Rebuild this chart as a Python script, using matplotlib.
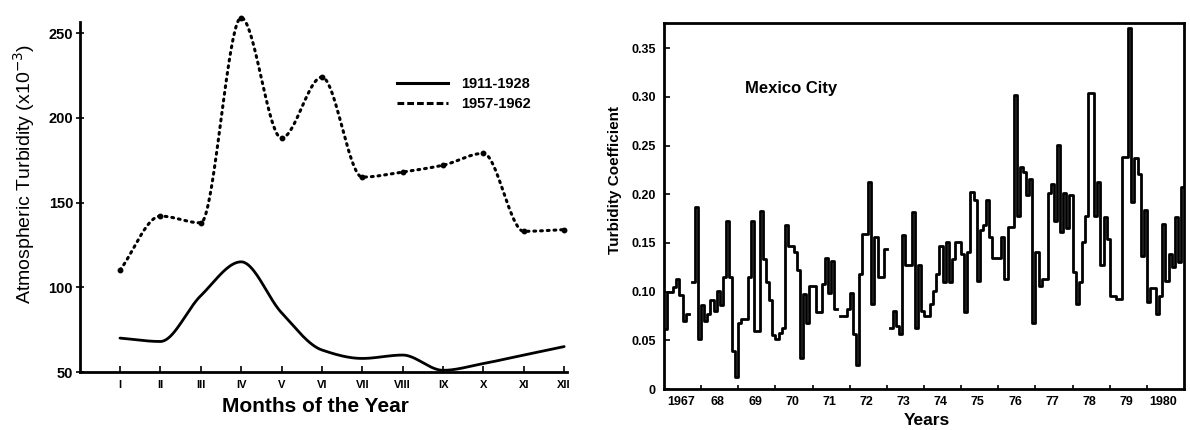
import numpy as np
import matplotlib
matplotlib.use("Agg")
import matplotlib.pyplot as plt
from matplotlib.lines import Line2D
from matplotlib.ticker import FixedLocator, NullFormatter

plt.rcParams['font.family'] = ['Liberation Sans', 'DejaVu Sans']

# ---------------- data: left panel ----------------
months = ['I', 'II', 'III', 'IV', 'V', 'VI', 'VII', 'VIII', 'IX', 'X', 'XI', 'XII']
turb_1911_1928 = [70, 68, 95, 115, 85, 63, 58, 60, 51, 55, 60, 65]
turb_1957_1962 = [110, 142, 138, 259, 188, 224, 165, 168, 172, 179, 133, 134]
left_yticks = [50, 100, 150, 200, 250]

# ---------------- data: right panel (monthly, 1967-1980) ----------------
nan = float('nan')
turbidity_monthly = [
    # 1967
    .062, .100, .100, .105, .113, .097, .070, .077, nan, .110, .187, .051,
    # 1968
    .086, .070, .077, .091, .080, .101, .086, .115, .173, .115, .039, .012,
    # 1969
    .068, .072, .072, .115, .173, .060, .060, .183, .134, .110, .091, .055,
    # 1970
    .051, .058, .063, .168, .147, .147, .141, .122, .032, .098, .068, .106,
    # 1971
    .106, .079, .079, .108, .135, .099, .132, .082, nan, .075, .075, .082,
    # 1972
    .099, .056, .025, .118, .159, .159, .213, .087, .156, .115, .115, .144,
    # 1973
    nan, .063, .080, .065, .056, .158, .127, .127, .182, .063, .127, .080,
    # 1974
    .075, .075, .087, .101, .118, .147, .110, .151, .110, .134, .151, .151,
    # 1975
    .139, .079, .141, .202, .194, .111, .163, .168, .194, .156, .135, .135,
    # 1976
    .135, .156, .113, .166, .166, .302, .178, .228, .223, .199, .216, .068,
    # 1977
    .141, .106, .113, .113, .201, .211, .173, .251, .161, .201, .165, .199,
    # 1978
    .120, .087, .110, .151, .178, .304, .304, .178, .213, .127, .177, .154,
    # 1979
    .096, .096, .092, .092, .238, .238, .371, .192, .237, .221, .137, .184,
    # 1980
    .089, .104, .104, .077, .096, .170, .111, .139, .125, .177, .130, .208,
]
start_year = 1967
year_labels = ['1967', '68', '69', '70', '71', '72', '73', '74', '75', '76',
               '77', '78', '79', '1980']
right_yticks = [0, 0.05, 0.10, 0.15, 0.20, 0.25, 0.30, 0.35]
right_ytick_labels = ['0', '0.05', '0.10', '0.15', '0.20', '0.25', '0.30', '0.35']


def pchip(xv, yv, n=40):
    """Monotone piecewise cubic Hermite interpolation (Fritsch-Carlson)."""
    x = np.asarray(xv, float)
    y = np.asarray(yv, float)
    h = np.diff(x)
    delta = np.diff(y) / h
    d = np.zeros_like(y)
    for k in range(1, len(y) - 1):
        if delta[k - 1] * delta[k] > 0:
            w1 = 2 * h[k] + h[k - 1]
            w2 = h[k] + 2 * h[k - 1]
            d[k] = (w1 + w2) / (w1 / delta[k - 1] + w2 / delta[k])
    d[0] = delta[0]
    d[-1] = delta[-1]
    xs, ys = [], []
    for i in range(len(x) - 1):
        t = np.linspace(0, 1, n, endpoint=(i == len(x) - 2))
        h00 = 2 * t ** 3 - 3 * t ** 2 + 1
        h10 = t ** 3 - 2 * t ** 2 + t
        h01 = -2 * t ** 3 + 3 * t ** 2
        h11 = t ** 3 - t ** 2
        yy = h00 * y[i] + h10 * h[i] * d[i] + h01 * y[i + 1] + h11 * h[i] * d[i + 1]
        xs.append(x[i] + h[i] * t)
        ys.append(yy)
    return np.concatenate(xs), np.concatenate(ys)


fig = plt.figure(figsize=(11.9, 4.3), dpi=100)

# ================= LEFT PANEL =================
axL = fig.add_axes([80 / 1190, 1 - 372 / 430, 487 / 1190, 350 / 430])
mx = np.arange(1, len(months) + 1)

xs, ys = pchip(mx, turb_1911_1928)
axL.plot(xs, ys, color='black', lw=2.0, solid_capstyle='round', clip_on=False)

xs, ys = pchip(mx, turb_1957_1962)
axL.plot(xs, ys, color='black', lw=2.2, linestyle=(0, (0.6, 1.6)),
         dash_capstyle='round', clip_on=False)
axL.plot(mx, turb_1957_1962, linestyle='none', marker='o', ms=3.2,
         color='black', clip_on=False)

axL.set_xlim(0.01, 12.07)
axL.set_ylim(50, 256.5)
axL.spines['top'].set_visible(False)
axL.spines['right'].set_visible(False)
axL.spines['left'].set_linewidth(2.0)
axL.spines['bottom'].set_linewidth(2.0)
axL.set_xticks(mx)
axL.set_xticklabels(months, fontsize=8, fontweight='bold')
axL.set_yticks(left_yticks)
axL.set_yticklabels([str(v) for v in left_yticks], fontsize=10.5, fontweight='bold')
axL.tick_params(axis='x', direction='in', length=4, width=1.2, pad=6)
axL.tick_params(axis='y', direction='inout', length=6, width=1.2, pad=2)

axL.set_ylabel('Atmospheric Turbidity (x10$^{-3}$)', fontsize=14)
axL.yaxis.set_label_coords(-0.088, 0.566)
axL.set_xlabel('Months of the Year', fontsize=15, fontweight='bold')
axL.xaxis.set_label_coords(0.483, -0.07)

handles = [Line2D([], [], color='black', lw=2.2),
           Line2D([], [], color='black', lw=2.2, linestyle=(0, (2.2, 1.0)))]
leg = axL.legend(handles, ['1911-1928', '1957-1962'], loc='upper left',
                 bbox_to_anchor=(0.624, 0.879), frameon=False, handlelength=3.5,
                 handletextpad=0.9, labelspacing=0.4,
                 prop={'size': 10.5, 'weight': 'bold'})

# ================= RIGHT PANEL =================
axR = fig.add_axes([664 / 1190, 1 - 389 / 430, 520 / 1190, 366 / 430])
vals = np.asarray(turbidity_monthly, float)
edges = start_year + np.arange(len(vals) + 1) / 12.0
axR.step(edges, np.append(vals, vals[-1]), where='post', color='black', lw=2.0)

n_years = len(year_labels)
axR.set_xlim(start_year, start_year + n_years)
axR.set_ylim(0, 0.376)
for s in axR.spines.values():
    s.set_linewidth(2.0)
axR.xaxis.set_major_locator(FixedLocator(np.arange(start_year + 1, start_year + n_years)))
axR.xaxis.set_major_formatter(NullFormatter())
axR.xaxis.set_minor_locator(FixedLocator(np.arange(n_years) + start_year + 0.45))
axR.set_xticklabels(year_labels, minor=True, fontsize=9, fontweight='bold')
axR.tick_params(axis='x', which='major', direction='in', length=3, width=1.2)
axR.tick_params(axis='x', which='minor', length=0, pad=5)
axR.set_yticks(right_yticks)
axR.set_yticklabels(right_ytick_labels, fontsize=9, fontweight='bold')
axR.tick_params(axis='y', direction='in', length=4, width=1.2, pad=6)

axR.set_ylabel('Turbidity Coefficient', fontsize=11, fontweight='bold')
axR.yaxis.set_label_coords(-0.081, 0.571)
axR.set_xlabel('Years', fontsize=12.5, fontweight='bold')
axR.xaxis.set_label_coords(0.506, -0.066)
axR.text(0.156, 0.822, 'Mexico City', transform=axR.transAxes, fontsize=12,
         fontweight='bold', va='center', ha='left')

fig.savefig('out.png', dpi=100)
